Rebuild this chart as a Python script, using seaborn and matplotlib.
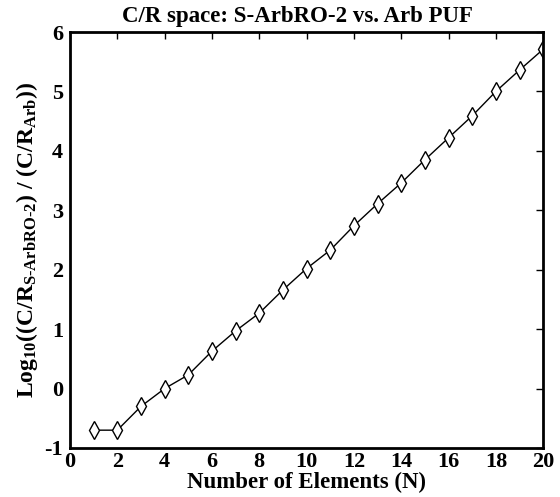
import matplotlib
matplotlib.use("Agg")
import matplotlib.pyplot as plt
import seaborn as sns
import pandas as pd

n_elements = list(range(1, 21))
log_ratio = [-0.70, -0.70, -0.30, 0.00, 0.23, 0.63, 0.97, 1.27, 1.66, 2.02,
             2.33, 2.74, 3.11, 3.46, 3.85, 4.22, 4.59, 5.00, 5.36, 5.71]
x_ticks = list(range(0, 21, 2))
y_ticks = list(range(-1, 7))

sns.set_style("white")
plt.rcParams['font.family'] = ['Liberation Serif', 'DejaVu Serif']
plt.rcParams['font.weight'] = 'bold'
plt.rcParams['axes.unicode_minus'] = False
plt.rcParams['text.color'] = 'black'
plt.rcParams['axes.labelcolor'] = 'black'
plt.rcParams['xtick.color'] = 'black'
plt.rcParams['ytick.color'] = 'black'
plt.rcParams['mathtext.fontset'] = 'custom'
plt.rcParams['mathtext.rm'] = 'Liberation Serif:bold'
plt.rcParams['mathtext.bf'] = 'Liberation Serif:bold'
plt.rcParams['mathtext.it'] = 'Liberation Serif:bold'

df = pd.DataFrame({"N": n_elements, "v": log_ratio})

fig = plt.figure(figsize=(5.6, 4.97), dpi=100)
ax = fig.add_axes([0.125, 0.0986, 0.845, 0.837])
sns.lineplot(data=df, x="N", y="v", ax=ax, color="black", linewidth=1.0,
             marker="d", markersize=9, markerfacecolor="white",
             markeredgecolor="black", markeredgewidth=1.0)

ax.set_xlim(0, 20)
ax.set_ylim(-1, 6)
ax.set_xticks(x_ticks)
ax.set_yticks(y_ticks)
ax.tick_params(direction="in", top=True, right=True, length=5, width=1,
               labelsize=16, colors="black")
ax.tick_params(axis="x", pad=3)
ax.tick_params(axis="y", pad=5)
for lab in ax.get_xticklabels() + ax.get_yticklabels():
    lab.set_fontweight("bold")
for s in ax.spines.values():
    s.set_linewidth(2)
    s.set_color("black")

ax.set_xlabel("Number of Elements (N)", fontsize=16.5, fontweight="bold", labelpad=0)
ax.set_ylabel(r"Log$_{10}$((C/R$_{\mathrm{S\text{-}ArbRO\text{-}2}}$) / (C/R$_{\mathrm{Arb}}$))",
              fontsize=17, fontweight="bold", labelpad=3)
ax.set_title("C/R space: S-ArbRO-2 vs. Arb PUF", fontsize=16.5, fontweight="bold", pad=7,
             x=0.48)

fig.savefig("out.png", dpi=100)
